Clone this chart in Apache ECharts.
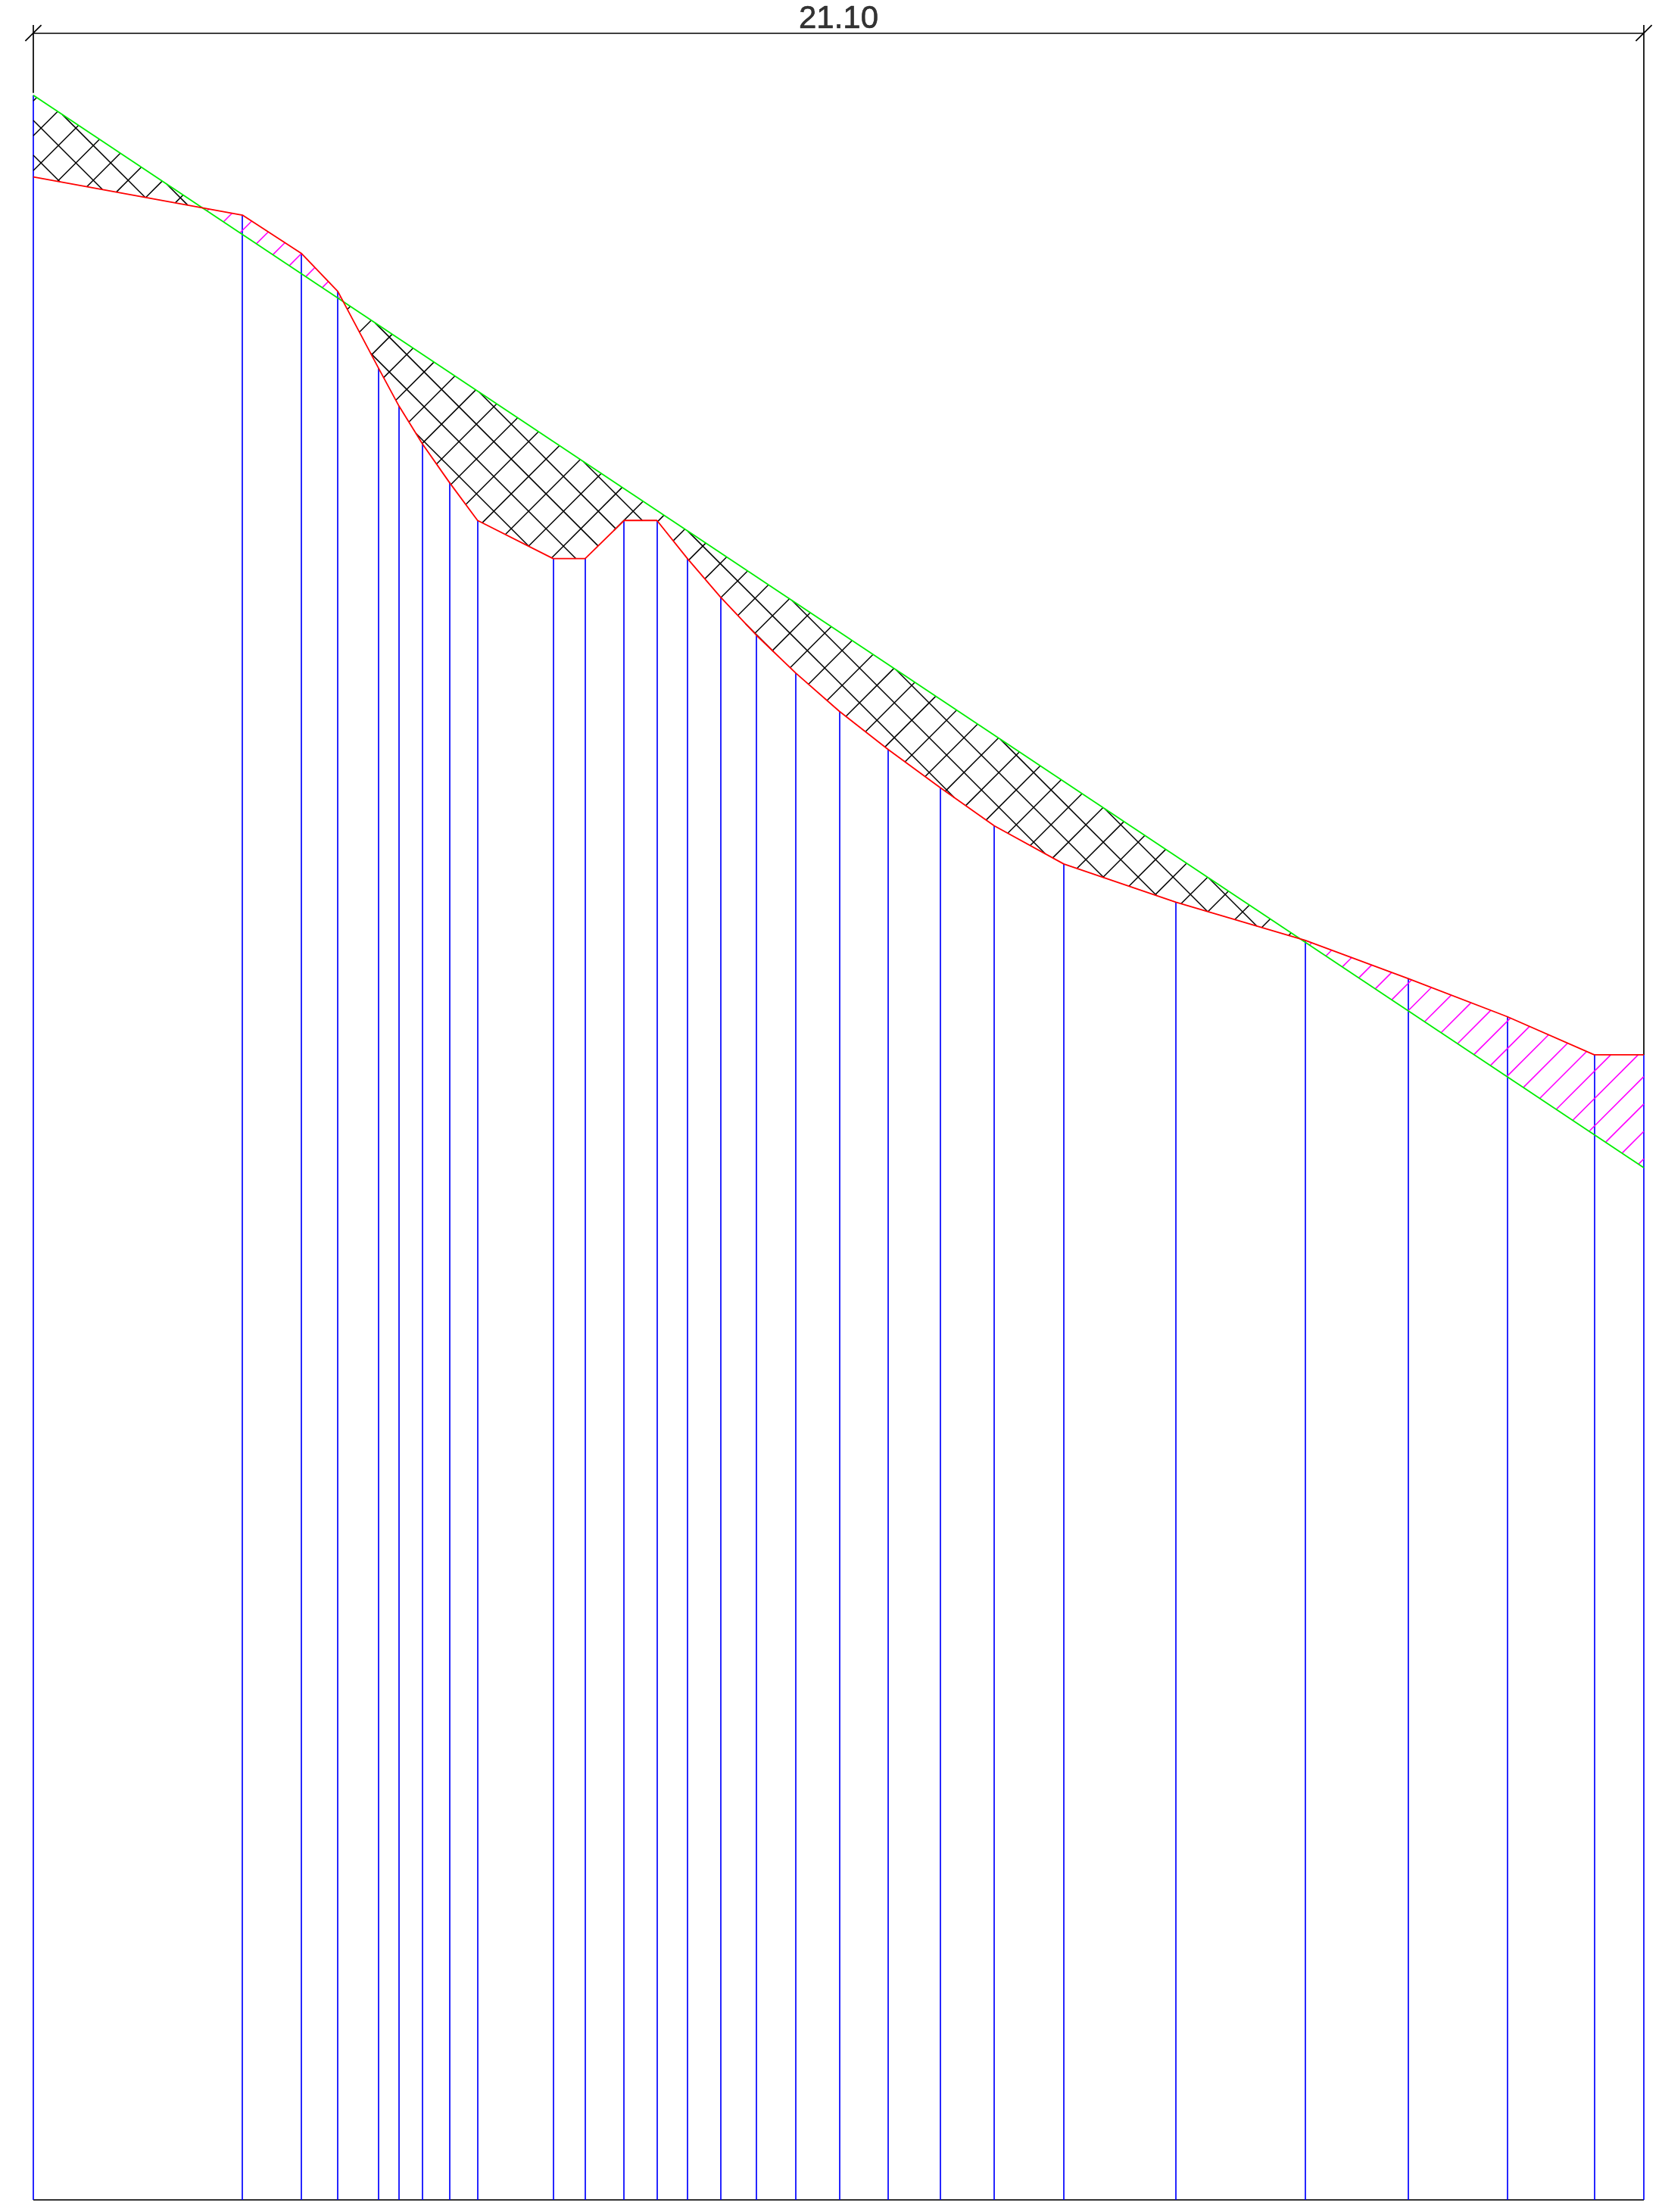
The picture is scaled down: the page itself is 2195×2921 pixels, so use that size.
<!DOCTYPE html>
<html>
<head>
<meta charset="utf-8">
<style>html,body{margin:0;padding:0;background:#fff}#c{width:2195px;height:2921px}</style>
<script src="https://cdn.jsdelivr.net/npm/echarts@6/dist/echarts.min.js"></script>
</head>
<body>
<div id="c"></div>
<script>
// Stations (m) and levels (m)
var stations = [0, 2.74, 3.51, 3.99, 4.52, 4.79, 5.10, 5.45, 5.82, 6.81, 7.23, 7.74, 8.17, 8.57, 9.00, 9.47, 9.99, 10.56, 11.20, 11.88, 12.59, 13.50, 14.97, 16.66, 18.01, 19.31, 20.45, 21.10];
var redLevels = [26.5, 26, 25.5, 25, 24, 23.5, 23, 22.5, 22, 21.5, 21.5, 22, 22, 21.5, 21, 20.5, 20, 19.5, 19, 18.5, 18, 17.5, 17, 16.5, 16, 15.5, 15, 15];
var greenStations = [0, 21.10];
var greenLevels = [27.57, 13.52];
var dimensionLabel = '21.10';

// Drawing extents (m)
var PX = 100.806;
var frameTop = 28.385;
var xMin = -44 / PX, xMax = 2151 / PX, yMin = -16 / PX, yMax = 2905 / PX;

var redPts = stations.map(function (x, i) { return [x, redLevels[i]]; });
var greenPts = greenStations.map(function (x, i) { return [x, greenLevels[i]]; });

function at(pts, x) {
  for (var i = 0; i < pts.length - 1; i++) {
    if (x >= pts[i][0] && x <= pts[i + 1][0]) {
      return pts[i][1] + (pts[i + 1][1] - pts[i][1]) * (x - pts[i][0]) / (pts[i + 1][0] - pts[i][0]);
    }
  }
  return NaN;
}
function crossings(pts, a, b, out) {
  for (var i = 0; i < pts.length - 1; i++) {
    var h1 = a * pts[i][0] + b - pts[i][1], h2 = a * pts[i + 1][0] + b - pts[i + 1][1];
    if (h1 * h2 < 0) out.push(pts[i][0] + (pts[i + 1][0] - pts[i][0]) * h1 / (h1 - h2));
  }
}
// clip a 45 degree hatch family to the cut (ground above design) or fill region
function hatch(a, k0, step, kind) {
  var res = [];
  for (var k = -120; k <= 120; k++) {
    var b = a > 0 ? -(k0 + step * k) : (k0 + step * k);
    var xs = [0, greenStations[1]];
    crossings(redPts, a, b, xs);
    crossings(greenPts, a, b, xs);
    xs.sort(function (p, q) { return p - q; });
    for (var i = 0; i < xs.length - 1; i++) {
      if (xs[i + 1] - xs[i] < 1e-6) continue;
      var m = (xs[i] + xs[i + 1]) / 2, y = a * m + b, r = at(redPts, m), g = at(greenPts, m);
      var inside = kind === 'cut' ? (g > r && y > r && y < g) : (r > g && y > g && y < r);
      if (inside) res.push({ coords: [[xs[i], a * xs[i] + b], [xs[i + 1], a * xs[i + 1] + b]] });
    }
  }
  return res;
}
var cutHatch = hatch(1, -27.039, 0.4563, 'cut').concat(hatch(-1, 27.241, 0.4563, 'cut'));
var fillHatch = hatch(1, -23.061, 0.3591, 'fill');

var verticals = stations.map(function (x, i) {
  return { coords: [[x, 0], [x, i === 0 ? greenLevels[0] : redLevels[i]]] };
});
var tick = 0.105;
var w = greenStations[1];
var frame = [
  { coords: [[0, frameTop], [w, frameTop]] },
  { coords: [[0, frameTop + tick], [0, 27.6]] },
  { coords: [[w, frameTop + tick], [w, redLevels[redLevels.length - 1]]] },
  { coords: [[-tick, frameTop - tick], [tick, frameTop + tick]] },
  { coords: [[w - tick, frameTop - tick], [w + tick, frameTop + tick]] }
];
var bottomLine = [{ coords: [[0, 0], [w, 0]] }];

function lines(name, data, color, width, z) {
  return {
    name: name, type: 'lines', coordinateSystem: 'cartesian2d', data: data, z: z,
    polyline: false, silent: true, symbol: 'none',
    lineStyle: { color: color, width: width, opacity: 1, curveness: 0 }
  };
}
function poly(name, pts, color, width, z) {
  return {
    name: name, type: 'line', data: pts, showSymbol: false, silent: true, z: z, clip: false,
    lineStyle: { color: color, width: width }
  };
}

var chart = echarts.init(document.getElementById('c'), null, { renderer: 'canvas', width: 2195, height: 2921 });
chart.setOption({
  animation: false,
  backgroundColor: '#ffffff',
  grid: { left: 0, right: 0, top: 0, bottom: 0, containLabel: false },
  xAxis: { type: 'value', min: xMin, max: xMax, show: false },
  yAxis: { type: 'value', min: yMin, max: yMax, show: false },
  tooltip: { show: false },
  series: [
    lines('frame', frame, '#000000', 1.7, 1),
    lines('base', bottomLine, '#333333', 1.8, 1),
    lines('stations', verticals, '#0000ff', 1.7, 2),
    lines('cut hatch', cutHatch, '#000000', 1.5, 3),
    lines('fill hatch', fillHatch, '#ff00ff', 1.6, 3),
    poly('ground', greenPts, '#00ee00', 1.8, 4),
    poly('design', redPts, '#ff0000', 1.8, 5),
    {
      name: 'dimension', type: 'scatter', symbolSize: 0, silent: true, z: 6,
      data: [[w / 2, frameTop]],
      label: {
        show: true, position: 'top', distance: -3, formatter: dimensionLabel,
        fontFamily: 'Liberation Sans', fontSize: 42, color: '#000000',
        textBorderColor: '#000000', textBorderWidth: 0.6
      }
    }
  ]
});
</script>
</body>
</html>
